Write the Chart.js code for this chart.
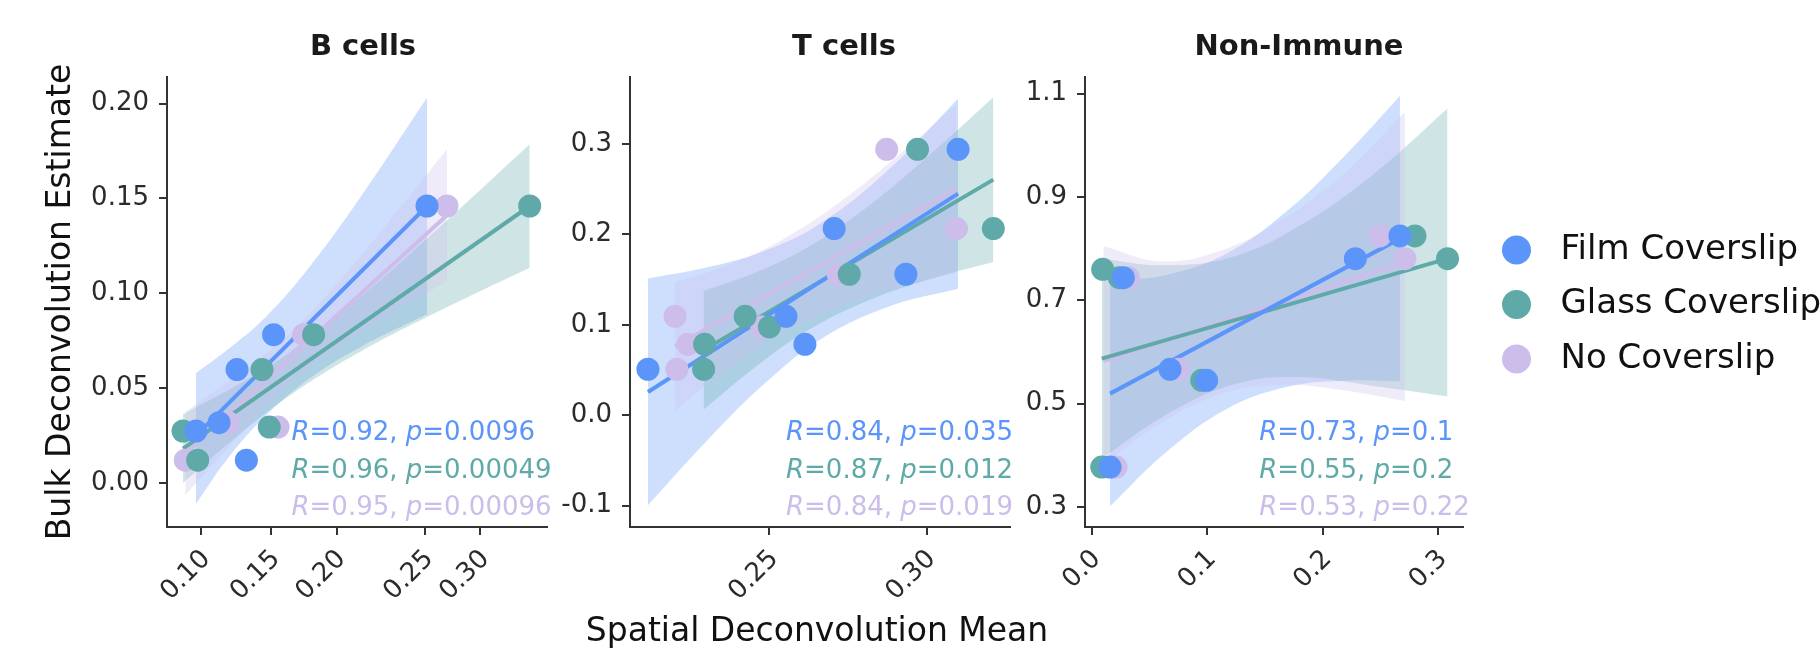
<!DOCTYPE html>
<html>
<head>
<meta charset="utf-8">
<script src="https://cdn.jsdelivr.net/npm/chart.js@4.4.1/dist/chart.umd.min.js"></script>
<style>
html, body { margin: 0; padding: 0; background: #fff; }
#wrap { position: relative; width: 1820px; height: 652px; overflow: hidden; }
canvas { position: absolute; top: 0; }
</style>
</head>
<body>
<div id="wrap">
  <canvas id="cB" width="600" height="652" style="left:0px;width:600px;height:652px"></canvas>
  <canvas id="cT" width="520" height="652" style="left:560px;width:520px;height:652px"></canvas>
  <canvas id="cN" width="830" height="652" style="left:990px;width:830px;height:652px"></canvas>
</div>
<script>
var FONT = "'DejaVu Sans', sans-serif";
Chart.defaults.font.family = FONT;

var groups = ['Film Coverslip', 'Glass Coverslip', 'No Coverslip'];
var colors = ['#5B95F9', '#5FAAA8', '#CDBDEA'];
var fills  = ['rgba(91,149,249,0.3)', 'rgba(95,170,168,0.3)', 'rgba(205,189,234,0.3)'];

// ---- B cells ----
var bFilmX  = [0.2618, 0.1518, 0.1256, 0.1127, 0.0962, 0.1323];
var bFilmY  = [0.146, 0.0782, 0.0598, 0.0318, 0.0274, 0.012];
var bGlassX = [0.3354, 0.1805, 0.1435, 0.1487, 0.0869, 0.0974];
var bGlassY = [0.146, 0.0782, 0.0598, 0.0295, 0.0274, 0.012];
var bNoX    = [0.2761, 0.1733, 0.1196, 0.155, 0.0885];
var bNoY    = [0.146, 0.0782, 0.0318, 0.0295, 0.012];
var bFitX   = [[0.0962, 0.2618], [0.0869, 0.3354], [0.0885, 0.2761]];
var bFitY   = [[0.025, 0.146], [0.0181, 0.146], [0.0155, 0.1411]];
var bBandX  = [[0.0962, 0.1184, 0.1466, 0.1781, 0.2140, 0.2618],
               [0.0869, 0.1303, 0.1655, 0.2140, 0.2737, 0.3354],
               [0.0885, 0.1256, 0.1626, 0.2020, 0.2379, 0.2761]];
var bBandUp = [[0.058, 0.0701, 0.0878, 0.1144, 0.1506, 0.2031],
               [0.0362, 0.0535, 0.0700, 0.0979, 0.1368, 0.1785],
               [0.0374, 0.0570, 0.0783, 0.1091, 0.1410, 0.1759]];
var bBandLo = [[-0.011, 0.0124, 0.0358, 0.0554, 0.0716, 0.0889],
               [0.0000, 0.0275, 0.0472, 0.0692, 0.0918, 0.1135],
               [-0.0065, 0.0236, 0.0519, 0.0739, 0.0901, 0.1063]];
var bStatR  = ['0.92', '0.96', '0.95'];
var bStatP  = ['0.0096', '0.00049', '0.00096'];
var bXTicks = [0.10, 0.15, 0.197, 0.26, 0.30];
var bXLabels = ['0.10', '0.15', '0.20', '0.25', '0.30'];
var bYTicks = [0, 0.05, 0.10, 0.15, 0.20];
var bYLabels = ['0.00', '0.05', '0.10', '0.15', '0.20'];

// ---- T cells ----
var tFilmX  = [0.2114, 0.2553, 0.2613, 0.2706, 0.2934, 0.3100];
var tFilmY  = [0.0509, 0.1095, 0.0785, 0.2065, 0.156, 0.2942];
var tGlassX = [0.2291, 0.2294, 0.2423, 0.25, 0.2754, 0.2971, 0.3212];
var tGlassY = [0.0509, 0.0785, 0.1095, 0.0977, 0.156, 0.2942, 0.2065];
var tNoX    = [0.2200, 0.2241, 0.2206, 0.2476, 0.2719, 0.2873, 0.3095];
var tNoY    = [0.1095, 0.0785, 0.0509, 0.0977, 0.156, 0.2942, 0.2065];
var tFitX   = [[0.2114, 0.3100], [0.2291, 0.3212], [0.2200, 0.3095]];
var tFitY   = [[0.0258, 0.2452], [0.0719, 0.2607], [0.076, 0.2507]];
var tBandX  = [[0.2114, 0.2306, 0.2486, 0.2670, 0.2889, 0.3100],
               [0.2291, 0.2465, 0.2634, 0.2836, 0.3026, 0.3212],
               [0.2200, 0.2370, 0.2544, 0.2730, 0.2910, 0.3095]];
var tBandUp = [[0.1512, 0.1639, 0.1820, 0.2138, 0.2749, 0.3503],
               [0.1375, 0.1590, 0.1883, 0.2371, 0.2931, 0.3518],
               [0.1468, 0.1662, 0.1948, 0.2372, 0.2875, 0.3440]];
var tBandLo = [[-0.0996, -0.0266, 0.0353, 0.0855, 0.1213, 0.1401],
               [0.0063, 0.0560, 0.0963, 0.1300, 0.1522, 0.1696],
               [0.0052, 0.0519, 0.0916, 0.1215, 0.1416, 0.1574]];
var tStatR  = ['0.84', '0.87', '0.84'];
var tStatP  = ['0.035', '0.012', '0.019'];
var tXTicks = [0.25, 0.30];
var tXLabels = ['0.25', '0.30'];
var tYTicks = [-0.1, 0, 0.1, 0.2, 0.3];
var tYLabels = ['-0.1', '0.0', '0.1', '0.2', '0.3'];

// ---- Non-Immune ----
var nFilmX  = [0.0159, 0.0274, 0.0678, 0.0995, 0.2282, 0.2668];
var nFilmY  = [0.3774, 0.7439, 0.5665, 0.5452, 0.7806, 0.8245];
var nGlassX = [0.0087, 0.0095, 0.0239, 0.0952, 0.2798, 0.3080];
var nGlassY = [0.3774, 0.76, 0.7439, 0.5452, 0.8245, 0.7806];
var nNoX    = [0.0211, 0.0317, 0.075, 0.2495, 0.2711];
var nNoY    = [0.3774, 0.7439, 0.5665, 0.8245, 0.7806];
var nFitX   = [[0.0159, 0.2668], [0.0087, 0.3080], [0.0101, 0.2711]];
var nFitY   = [[0.5194, 0.8194], [0.5871, 0.7806], [0.5826, 0.7742]];
var nBandX  = [[0.0159, 0.0649, 0.1177, 0.1687, 0.2178, 0.2668],
               [0.0087, 0.0620, 0.1209, 0.1774, 0.2437, 0.3080],
               [0.0101, 0.0591, 0.1096, 0.1630, 0.2178, 0.2711]];
var nBandUp = [[0.7374, 0.7492, 0.7915, 0.8722, 0.9770, 1.0955],
               [0.7806, 0.7679, 0.7834, 0.8409, 0.9437, 1.0710],
               [0.8052, 0.7755, 0.7943, 0.8535, 0.9442, 1.0645]];
var nBandLo = [[0.3013, 0.4068, 0.4906, 0.5321, 0.5444, 0.5432],
               [0.3935, 0.4753, 0.5359, 0.5515, 0.5344, 0.5142],
               [0.3826, 0.4617, 0.5169, 0.5361, 0.5259, 0.5052]];
var nStatR  = ['0.73', '0.55', '0.53'];
var nStatP  = ['0.1', '0.2', '0.22'];
var nXTicks = [0.0, 0.1, 0.2, 0.3];
var nXLabels = ['0.0', '0.1', '0.2', '0.3'];
var nYTicks = [0.3, 0.5, 0.7, 0.9, 1.1];
var nYLabels = ['0.3', '0.5', '0.7', '0.9', '1.1'];

function pairs(xs, ys) {
    return xs.map(function (x, i) { return {x: x, y: ys[i]}; });
}

function drawStat(ctx, x, y, r, p, color) {
    var parts = [['R', true], ['=' + r + ', ', false], ['p', true], ['=' + p, false]];
    ctx.fillStyle = color;
    ctx.textAlign = 'left';
    ctx.textBaseline = 'middle';
    parts.forEach(function (part) {
        ctx.font = (part[1] ? 'oblique ' : '') + '26px ' + FONT;
        ctx.fillText(part[0], x, y);
        x += ctx.measureText(part[0]).width;
    });
}

// titles, axis titles, R/p labels and legend drawn on top of each panel
var panelText = {
    id: 'panelText',
    afterDraw: function (chart, args, opts) {
        var ctx = chart.ctx;
        var area = chart.chartArea;
        ctx.save();
        ctx.font = 'bold 29px ' + FONT;
        ctx.fillStyle = '#1a1a1a';
        ctx.textAlign = 'center';
        ctx.textBaseline = 'middle';
        ctx.fillText(opts.title, opts.titleX, 47);

        ctx.font = '33px ' + FONT;
        ctx.fillStyle = '#111';
        if (opts.xTitle) {
            ctx.fillText(opts.xTitle, (area.left + area.right) / 2 - 3, 632);
        }
        if (opts.yTitle) {
            ctx.save();
            ctx.translate(61, (area.top + area.bottom) / 2);
            ctx.rotate(-Math.PI / 2);
            ctx.fillText(opts.yTitle, 0, 0);
            ctx.restore();
        }

        opts.statR.forEach(function (r, g) {
            drawStat(ctx, opts.statX, [433, 471, 508][g], r, opts.statP[g], colors[g]);
        });
        if (opts.legend) {
            groups.forEach(function (name, g) {
                var cy = [250, 304.5, 359][g];
                ctx.beginPath();
                ctx.fillStyle = colors[g];
                ctx.arc(opts.legendX, cy, 14.5, 0, Math.PI * 2);
                ctx.fill();
                ctx.fillStyle = '#111';
                ctx.font = '34px ' + FONT;
                ctx.textAlign = 'left';
                ctx.fillText(name, opts.legendX + 44, cy);
            });
        }
        ctx.restore();
    }
};

function buildPanel(id, p) {
    var datasets = [];
    p.pts.forEach(function (s, g) {
        datasets.push({
            label: groups[g], data: pairs(s[0], s[1]),
            backgroundColor: colors[g], borderWidth: 0,
            pointRadius: 11.5, pointHoverRadius: 11.5, order: g, clip: false
        });
    });
    p.fitX.forEach(function (xs, g) {
        datasets.push({
            data: pairs(xs, p.fitY[g]), showLine: true,
            borderColor: colors[g], borderWidth: 4, pointRadius: 0, order: 3 + g
        });
    });
    p.bandX.forEach(function (xs, g) {
        datasets.push({
            data: pairs(xs, p.bandUp[g]), showLine: true, tension: 0.4,
            borderColor: 'rgba(0,0,0,0)', borderWidth: 0, pointRadius: 0,
            fill: '+1', backgroundColor: fills[g], order: 12 - 2 * g
        });
        datasets.push({
            data: pairs(xs, p.bandLo[g]), showLine: true, tension: 0.4,
            borderColor: 'rgba(0,0,0,0)', borderWidth: 0, pointRadius: 0,
            fill: false, order: 11 - 2 * g
        });
    });

    var axisGrid = { display: true, drawOnChartArea: false, drawTicks: true, tickLength: 8, color: '#333', lineWidth: 2 };
    var axisBorder = { display: true, color: '#333', width: 2 };

    return new Chart(document.getElementById(id), {
        type: 'scatter',
        data: { datasets: datasets },
        options: {
            responsive: false,
            animation: false,
            events: [],
            layout: { autoPadding: false, padding: { left: 0, right: p.padR, top: 77, bottom: 0 } },
            scales: {
                x: {
                    type: 'linear', min: p.xMin, max: p.xMax,
                    afterBuildTicks: function (s) { s.ticks = p.xTicks.map(function (v) { return {value: v}; }); },
                    afterFit: function (s) { s.height = 125; },
                    ticks: {
                        autoSkip: false, minRotation: 45, maxRotation: 45, padding: 9, labelOffset: 5,
                        color: '#2b2b2b', font: { size: 26 },
                        callback: function (v, i) { return p.xLabels[i]; }
                    },
                    grid: axisGrid, border: axisBorder
                },
                y: {
                    type: 'linear', min: p.yMin, max: p.yMax,
                    afterBuildTicks: function (s) { s.ticks = p.yTicks.map(function (v) { return {value: v}; }); },
                    afterFit: function (s) { s.width = p.yW; },
                    ticks: {
                        autoSkip: false, padding: 10, color: '#2b2b2b', font: { size: 26 },
                        callback: function (v, i) { return p.yLabels[i]; }
                    },
                    grid: axisGrid, border: axisBorder
                }
            },
            plugins: {
                legend: { display: false },
                tooltip: { enabled: false },
                title: { display: false },
                panelText: {
                    title: p.title, titleX: p.titleX, statX: p.statX,
                    statR: p.statR, statP: p.statP, xTitle: p.xTitle, yTitle: p.yTitle,
                    legend: !!p.legend, legendX: p.legendX
                }
            }
        },
        plugins: [panelText]
    });
}

buildPanel('cB', {
    title: 'B cells', titleX: 363, statX: 291.5, statR: bStatR, statP: bStatP,
    pts: [[bFilmX, bFilmY], [bGlassX, bGlassY], [bNoX, bNoY]],
    fitX: bFitX, fitY: bFitY, bandX: bBandX, bandUp: bBandUp, bandLo: bBandLo,
    xMin: 0.0754, xMax: 0.3478, yMin: -0.0232, yMax: 0.2140,
    xTicks: bXTicks, xLabels: bXLabels, yTicks: bYTicks, yLabels: bYLabels,
    yW: 167, padR: 53, yTitle: 'Bulk Deconvolution Estimate'
});

buildPanel('cT', {
    title: 'T cells', titleX: 284, statX: 226, statR: tStatR, statP: tStatP,
    pts: [[tFilmX, tFilmY], [tGlassX, tGlassY], [tNoX, tNoY]],
    fitX: tFitX, fitY: tFitY, bandX: tBandX, bandUp: tBandUp, bandLo: tBandLo,
    xMin: 0.2057, xMax: 0.3265, yMin: -0.1236, yMax: 0.3742,
    xTicks: tXTicks, xLabels: tXLabels, yTicks: tYTicks, yLabels: tYLabels,
    yW: 70, padR: 70, xTitle: 'Spatial Deconvolution Mean'
});

buildPanel('cN', {
    title: 'Non-Immune', titleX: 309, statX: 269.3, statR: nStatR, statP: nStatP,
    pts: [[nFilmX, nFilmY], [nGlassX, nGlassY], [nNoX, nNoY]],
    fitX: nFitX, fitY: nFitY, bandX: nBandX, bandUp: nBandUp, bandLo: nBandLo,
    xMin: -0.0058, xMax: 0.3214, yMin: 0.2613, yMax: 1.1322,
    xTicks: nXTicks, xLabels: nXLabels, yTicks: nYTicks, yLabels: nYLabels,
    yW: 95, padR: 357, legend: true, legendX: 526.5
});
</script>
</body>
</html>
